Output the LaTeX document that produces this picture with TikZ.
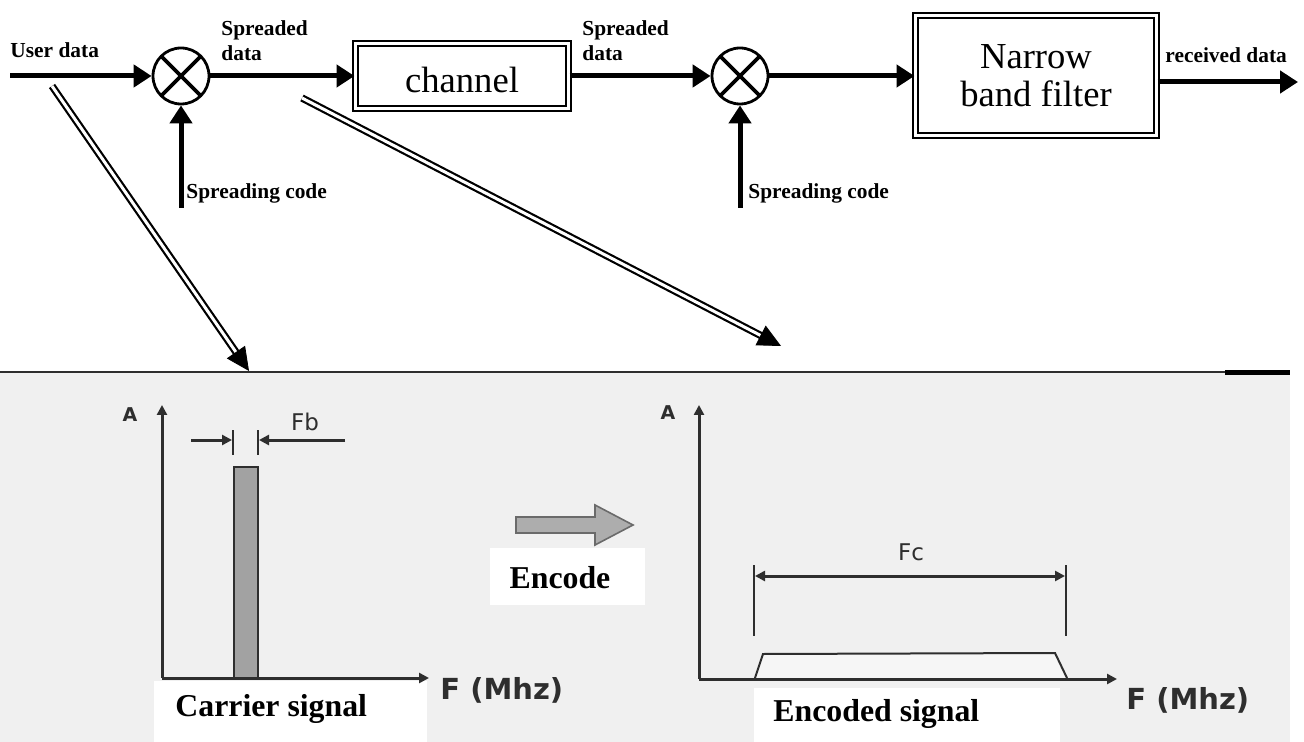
\documentclass[tikz,border=0pt]{standalone}
\usepackage{fontspec}
\setmainfont{Liberation Serif}
\newfontfamily\scanfont{DejaVu Sans}
\usetikzlibrary{arrows.meta,calc}
\definecolor{scanbg}{HTML}{F0F0F0}
\definecolor{scanink}{HTML}{2E2E2E}
\definecolor{bargrey}{HTML}{A2A2A2}
\definecolor{encgrey}{HTML}{ADADAD}
\definecolor{encedge}{HTML}{6A6A6A}
\tikzset{
  flow/.style={line width=2.5pt,-{Triangle[length=9pt,width=11pt]}},
  lbl/.style={font=\fontsize{10.7pt}{12.5pt}\selectfont\bfseries, inner sep=0pt, align=left},
  mixer/.style={circle, draw, line width=1.4pt, minimum size=28pt, inner sep=0pt,
    path picture={\draw[line width=1.9pt]
      (path picture bounding box.north west) -- (path picture bounding box.south east)
      (path picture bounding box.north east) -- (path picture bounding box.south west);}},
  dbox/.style={draw, double, line width=1pt, double distance=1.5pt, inner sep=0pt, align=center,
    font=\fontsize{18.3pt}{19pt}\selectfont},
  dbl/.style={draw, double, line width=1.1pt, double distance=1.5pt},
  headtip/.style={line width=0.4pt, -{Triangle[length=11.5pt,width=11pt]}},
  axisline/.style={draw=scanink, line width=1.5pt, -{Triangle[length=5pt,width=5pt]}},
  dimline/.style={draw=scanink, line width=1.5pt},
  dimtick/.style={draw=scanink, line width=1pt},
  scanlbl/.style={text=scanink, inner sep=0pt, font=\scanfont\fontsize{11.5pt}{13pt}\selectfont},
  scanbold/.style={text=scanink, inner sep=0pt, font=\scanfont\bfseries\fontsize{14.5pt}{16pt}\selectfont},
  axislbl/.style={text=scanink, inner sep=0pt, font=\scanfont\bfseries\fontsize{9.5pt}{10pt}\selectfont},
  whitebox/.style={fill=white, draw=none},
  biglbl/.style={inner sep=0pt, font=\fontsize{15.9pt}{18pt}\selectfont\bfseries}
}
\begin{document}
\begin{tikzpicture}[x=0.5pt,y=-0.5pt]
\useasboundingbox (0,0) rectangle (1304,742);
% ---------- scanned lower panel ----------
\fill[scanbg] (0,373) rectangle (1290,742);
\draw[scanink, line width=1pt] (0,372.5) -- (1290,372.5);
\fill[black] (1225,370) rectangle (1290,375.5);

% ---------- top block diagram ----------
\node[mixer] (m1) at (181,76) {};
\node[mixer] (m2) at (740,76) {};
\node[dbox, minimum width=106.5pt, minimum height=32.5pt, text height=17pt] (ch) at (462,76) {channel};
\node[dbox, minimum width=120.5pt, minimum height=60pt] (nbf) at (1036,76) {Narrow\\band filter};

\coordinate (ud) at (10,76);
\coordinate (rd) at (1298,82);
\coordinate (s1) at (181,208);
\coordinate (s2) at (740,208);

\draw[flow] (ud) -- (m1.west);
\draw[flow] (m1.east) -- (ch.west);
\draw[flow] (ch.east) -- (m2.west);
\draw[flow] (m2.east) -- (nbf.west);
\draw[flow] (nbf.east |- rd) -- (rd);
\draw[flow] (s1) -- (m1.south);
\draw[flow] (s2) -- (m2.south);

\node[lbl, anchor=base west] (lud) at (10,58) {User data};
\node[lbl, anchor=north west] (lsp1) at (221,20.5) {Spreaded\\data};
\node[lbl, anchor=north west] (lsp2) at (582,20.5) {Spreaded\\data};
\node[lbl, anchor=base west] (lsc1) at (186,199) {Spreading code};
\node[lbl, anchor=base west] (lsc2) at (748,199) {Spreading code};
\node[lbl, anchor=base west] (lrd) at (1165,63) {received data};

% ---------- double-line pointers ----------
\coordinate (d1s) at (52,86);
\coordinate (d1e) at (249,371);
\coordinate (d2s) at (302,98);
\coordinate (d2e) at (781,346);
\draw[dbl, shorten >=11pt] (d1s) -- (d1e);
\draw[headtip] ($(d1e)!11.5pt!(d1s)$) -- (d1e);
\draw[dbl, shorten >=11pt] (d2s) -- (d2e);
\draw[headtip] ($(d2e)!11.5pt!(d2s)$) -- (d2e);

% ---------- left spectrum (carrier) ----------
\fill[whitebox] (154,681) rectangle (427,742);
\coordinate (o1) at (162,678);
\filldraw[fill=bargrey, draw=scanink, line width=0.8pt] (234,467) rectangle (258,678);
\draw[axisline] (o1) -- (162,405);
\draw[axisline] (o1) -- (429,678);
\node[axislbl] (a1) at (130,415) {A};
\draw[dimtick] (233,430) -- (233,455);
\draw[dimtick] (258,430) -- (258,455);
\draw[dimline, -{Triangle[length=5pt,width=5pt]}] (191,440) -- (232,440);
\draw[dimline, -{Triangle[length=5pt,width=5pt]}] (345,440) -- (259,440);
\node[scanlbl] (fb) at (305,422) {Fb};
\node[scanbold, anchor=west] (f1) at (440,690) {F (Mhz)};
\node[biglbl, anchor=base west] (carrier) at (175,716) {Carrier signal};

% ---------- encode arrow ----------
\filldraw[fill=encgrey, draw=encedge, line width=0.8pt]
  (516,517) -- (595,517) -- (595,505) -- (633,525) -- (595,545) -- (595,533) -- (516,533) -- cycle;
\fill[whitebox] (490,548) rectangle (645,605);
\node[biglbl] (enc) at (560,578) {Encode};

% ---------- right spectrum (encoded) ----------
\fill[whitebox] (754,688) rectangle (1060,742);
\coordinate (o2) at (699,679);
\filldraw[fill=scanbg!60!white, draw=scanink, line width=1pt]
  (755,678) -- (763,654) -- (1055,653) -- (1067,678);
\draw[axisline] (o2) -- (699,405);
\draw[axisline] (o2) -- (1117,679);
\node[axislbl] (a2) at (668,413) {A};
\draw[dimtick] (754,565) -- (754,636);
\draw[dimtick] (1066,565) -- (1066,636);
\draw[dimline, {Triangle[length=5pt,width=5pt]}-{Triangle[length=5pt,width=5pt]}] (755,576) -- (1065,576);
\node[scanlbl] (fc) at (911,552) {Fc};
\node[scanbold, anchor=west] (f2) at (1126,700) {F (Mhz)};
\node[biglbl, anchor=base west] (encoded) at (773,721) {Encoded signal};
\end{tikzpicture}
\end{document}
